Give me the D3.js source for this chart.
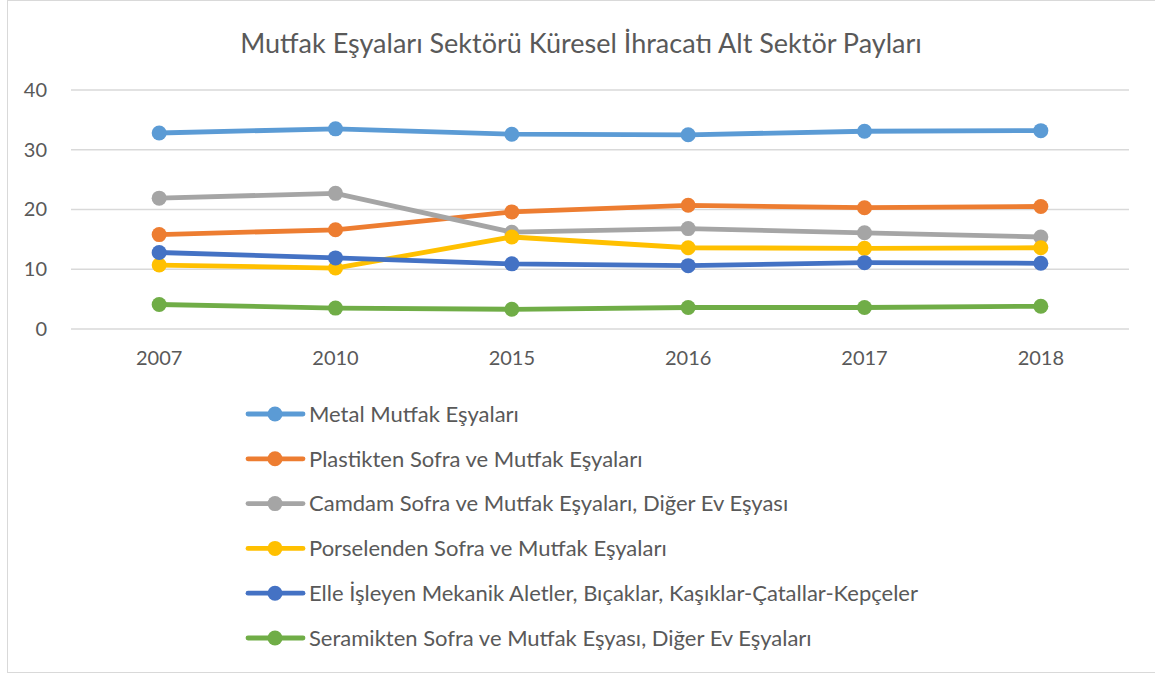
<!DOCTYPE html>
<html>
<head>
<meta charset="utf-8">
<script src="https://cdn.jsdelivr.net/npm/d3@7"></script>
<style>
  body { margin: 0; background: #fff; }
  text { font-family: Lato, "Noto Sans", sans-serif; fill: #595959; }
</style>
</head>
<body>
<script>
// data
var years = ["2007", "2010", "2015", "2016", "2017", "2018"];
var seriesNames = [
  "Metal Mutfak Eşyaları",
  "Plastikten Sofra ve Mutfak Eşyaları",
  "Camdam Sofra ve Mutfak Eşyaları, Diğer Ev Eşyası",
  "Porselenden Sofra ve Mutfak Eşyaları",
  "Elle İşleyen Mekanik Aletler, Bıçaklar, Kaşıklar-Çatallar-Kepçeler",
  "Seramikten Sofra ve Mutfak Eşyası, Diğer Ev Eşyaları"
];
var metal = [32.8, 33.5, 32.6, 32.5, 33.1, 33.2];
var plastik = [15.8, 16.6, 19.6, 20.7, 20.3, 20.5];
var camdam = [21.9, 22.7, 16.2, 16.8, 16.1, 15.4];
var porselen = [10.7, 10.2, 15.4, 13.6, 13.5, 13.6];
var elle = [12.8, 11.9, 10.9, 10.6, 11.1, 11.0];
var seramik = [4.1, 3.5, 3.3, 3.6, 3.6, 3.8];
var yTicks = [0, 10, 20, 30, 40];
var colors = ["#5b9bd5", "#ed7d31", "#a5a5a5", "#ffc000", "#4472c4", "#70ad47"];

var allSeries = [metal, plastik, camdam, porselen, elle, seramik];

var svgWidth = 1155, svgHeight = 677;
var margin = {top: 90, left: 71, right: 26};
var width = svgWidth - margin.left - margin.right;
var height = 329 - margin.top;

var svg = d3.select("body").append("svg")
  .attr("width", svgWidth)
  .attr("height", svgHeight);

// chart border
svg.append("rect")
  .attr("x", 7.5).attr("y", 0.5)
  .attr("width", 1170).attr("height", 672)
  .attr("fill", "#fff")
  .attr("stroke", "#d9d9d9");

// title
svg.append("text")
  .attr("x", 581).attr("y", 53)
  .attr("text-anchor", "middle")
  .style("font-size", "27px")
  .text("Mutfak Eşyaları Sektörü Küresel İhracatı Alt Sektör Payları");

var chart = svg.append("g")
  .attr("transform", `translate(${margin.left}, ${margin.top})`);

var x = d3.scaleBand().domain(years).range([0, width]);
var y = d3.scaleLinear().domain([0, 40]).range([height, 0]);

// gridlines
chart.append("g")
  .selectAll("line")
  .data(yTicks)
  .enter()
  .append("line")
  .attr("x1", 0).attr("x2", width)
  .attr("y1", d => y(d)).attr("y2", d => y(d))
  .attr("stroke", "#d9d9d9")
  .attr("stroke-width", 1.3);

// y axis labels
var leftAxis = d3.axisLeft(y).tickValues(yTicks).tickSize(0).tickPadding(24);
chart.append("g").call(leftAxis)
  .call(g => g.select(".domain").remove())
  .selectAll("text")
  .style("font-size", "20px")
  .attr("font-family", null);

// x axis labels
var bottomAxis = d3.axisBottom(x).tickSize(0).tickPadding(22);
chart.append("g")
  .attr("transform", `translate(0, ${height})`)
  .call(bottomAxis)
  .call(g => g.select(".domain").remove())
  .selectAll("text")
  .style("font-size", "20px")
  .attr("font-family", null);

var line = d3.line()
  .x((d, i) => x(years[i]) + x.bandwidth() / 2)
  .y(d => y(d));

allSeries.forEach(function(values, s) {
  var g = chart.append("g");
  g.append("path")
    .datum(values)
    .attr("d", line)
    .attr("fill", "none")
    .attr("stroke", colors[s])
    .attr("stroke-width", 4.8)
    .attr("stroke-linejoin", "round");
  g.selectAll("circle")
    .data(values)
    .enter()
    .append("circle")
    .attr("cx", (d, i) => x(years[i]) + x.bandwidth() / 2)
    .attr("cy", d => y(d))
    .attr("r", 7.5)
    .attr("fill", colors[s]);
});

// legend
var legend = svg.append("g");
var rows = legend.selectAll("g")
  .data(seriesNames)
  .enter()
  .append("g")
  .attr("transform", (d, i) => `translate(248, ${414 + i * 44.8})`);

rows.append("line")
  .attr("x1", 0).attr("x2", 55)
  .attr("stroke", (d, i) => colors[i])
  .attr("stroke-width", 4.8)
  .attr("stroke-linecap", "round");
rows.append("circle")
  .attr("cx", 27).attr("r", 7.5)
  .attr("fill", (d, i) => colors[i]);
rows.append("text")
  .attr("x", 61).attr("dy", "0.35em")
  .style("font-size", "22px")
  .text(d => d);
</script>
</body>
</html>
